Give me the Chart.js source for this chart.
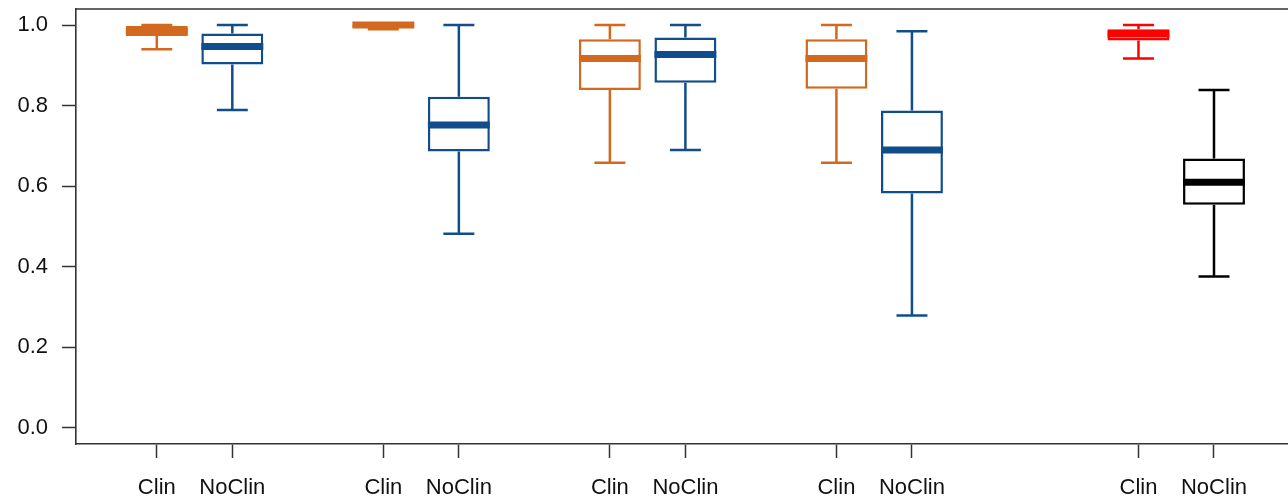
<!DOCTYPE html>
<html>
<head>
<meta charset="utf-8">
<script src="https://cdn.jsdelivr.net/npm/chart.js@4"></script>
<style>
    html, body { margin: 0; padding: 0; background: #fff; }
    #wrap { width: 1288px; height: 500px; }
</style>
</head>
<body>
<div id="wrap"><canvas id="boxChart" width="1288" height="500"></canvas></div>
<script>
// box positions on the x axis and their labels
const positions = [1, 2, 4, 5, 7, 8, 10, 11, 14, 15];
const groupLabels = ['Clin', 'NoClin', 'Clin', 'NoClin', 'Clin', 'NoClin', 'Clin', 'NoClin', 'Clin', 'NoClin'];

// five-number summaries per box
const lowerWhisker = [0.940, 0.789, 0.990, 0.482, 0.658, 0.690, 0.658, 0.279, 0.917, 0.376];
const q1 = [0.973, 0.902, 0.995, 0.686, 0.839, 0.857, 0.842, 0.582, 0.962, 0.554];
const median = [0.985, 0.947, 1.000, 0.752, 0.917, 0.927, 0.917, 0.690, 0.978, 0.610];
const q3 = [0.998, 0.979, 1.000, 0.822, 0.965, 0.969, 0.965, 0.788, 0.990, 0.669];
const upperWhisker = [1.000, 1.000, 1.000, 1.000, 1.000, 1.000, 1.000, 0.985, 1.000, 0.839];

const yTicks = [0, 0.2, 0.4, 0.6, 0.8, 1.0];

const boxColors = ['#D2691E', '#104E8B', '#D2691E', '#104E8B', '#D2691E', '#104E8B', '#D2691E', '#104E8B', '#FF0000', '#000000'];

const axisColor = '#333';
const lineW = 2.5;

// whiskers, caps and medians on top of the bar boxes
const boxExtras = {
    id: 'boxExtras',
    afterDatasetsDraw(chart) {
        const ctx = chart.ctx;
        const x = chart.scales.x, y = chart.scales.y;
        const bars = chart.getDatasetMeta(0).data;
        ctx.save();
        positions.forEach((p, i) => {
            const cx = x.getPixelForValue(p);
            const half = bars[i].width / 2;
            const capHalf = half / 2;
            ctx.strokeStyle = boxColors[i];
            ctx.lineWidth = lineW;
            ctx.lineCap = 'butt';
            const yUp = y.getPixelForValue(upperWhisker[i]);
            const yQ3 = y.getPixelForValue(q3[i]);
            const yQ1 = y.getPixelForValue(q1[i]);
            const yLo = y.getPixelForValue(lowerWhisker[i]);
            ctx.beginPath();
            ctx.moveTo(cx, yUp); ctx.lineTo(cx, yQ3);
            ctx.moveTo(cx, yQ1); ctx.lineTo(cx, yLo);
            ctx.moveTo(cx - capHalf, yUp); ctx.lineTo(cx + capHalf, yUp);
            ctx.moveTo(cx - capHalf, yLo); ctx.lineTo(cx + capHalf, yLo);
            ctx.stroke();
            const ym = y.getPixelForValue(median[i]);
            ctx.lineWidth = 7;
            ctx.beginPath();
            ctx.moveTo(cx - half, ym); ctx.lineTo(cx + half, ym);
            ctx.stroke();
        });
        // top edge of the plot frame
        const a = chart.chartArea;
        ctx.strokeStyle = axisColor;
        ctx.lineWidth = 1.6;
        ctx.beginPath();
        ctx.moveTo(a.left, a.top);
        ctx.lineTo(a.right, a.top);
        ctx.stroke();
        ctx.restore();
    }
};

const tickFont = { family: '"Liberation Sans", Arial, sans-serif', size: 22 };

new Chart(document.getElementById('boxChart').getContext('2d'), {
    type: 'bar',
    data: {
        datasets: [{
            data: positions.map((p, i) => ({ x: p, y: [q1[i], q3[i]] })),
            backgroundColor: '#ffffff',
            borderColor: boxColors,
            borderWidth: lineW,
            borderSkipped: false,
            barPercentage: 0.82,
            categoryPercentage: 1
        }]
    },
    options: {
        responsive: false,
        animation: false,
        layout: { padding: { top: 9, right: 0, left: 0, bottom: 0 } },
        plugins: {
            legend: { display: false },
            tooltip: { enabled: false }
        },
        scales: {
            x: {
                type: 'linear',
                offset: false,
                min: -0.07,
                max: 15.98,
                afterBuildTicks: (scale) => { scale.ticks = positions.map(v => ({ value: v })); },
                afterFit: (scale) => {
                    scale.height = 56;
                    scale.paddingLeft = 0; scale.paddingRight = 0;
                },
                ticks: {
                    autoSkip: false,
                    maxRotation: 0,
                    padding: 17,
                    color: '#111',
                    font: tickFont,
                    callback: (value, index) => groupLabels[index]
                },
                grid: {
                    offset: false,
                    drawOnChartArea: false,
                    drawTicks: true,
                    tickLength: 14,
                    tickColor: axisColor,
                    tickWidth: 1.5
                },
                border: { display: true, color: axisColor, width: 1.6 }
            },
            y: {
                min: -0.04,
                max: 1.04,
                afterBuildTicks: (scale) => { scale.ticks = yTicks.map(v => ({ value: v })); },
                afterFit: (scale) => {
                    scale.width = 76;
                    scale.paddingTop = 0; scale.paddingBottom = 0;
                },
                ticks: {
                    padding: 14,
                    color: '#111',
                    font: tickFont,
                    callback: (value) => value.toFixed(1)
                },
                grid: {
                    drawOnChartArea: false,
                    drawTicks: true,
                    tickLength: 14,
                    tickColor: axisColor,
                    tickWidth: 1.5
                },
                border: { display: true, color: axisColor, width: 1.6 }
            }
        }
    },
    plugins: [boxExtras]
});
</script>
</body>
</html>
